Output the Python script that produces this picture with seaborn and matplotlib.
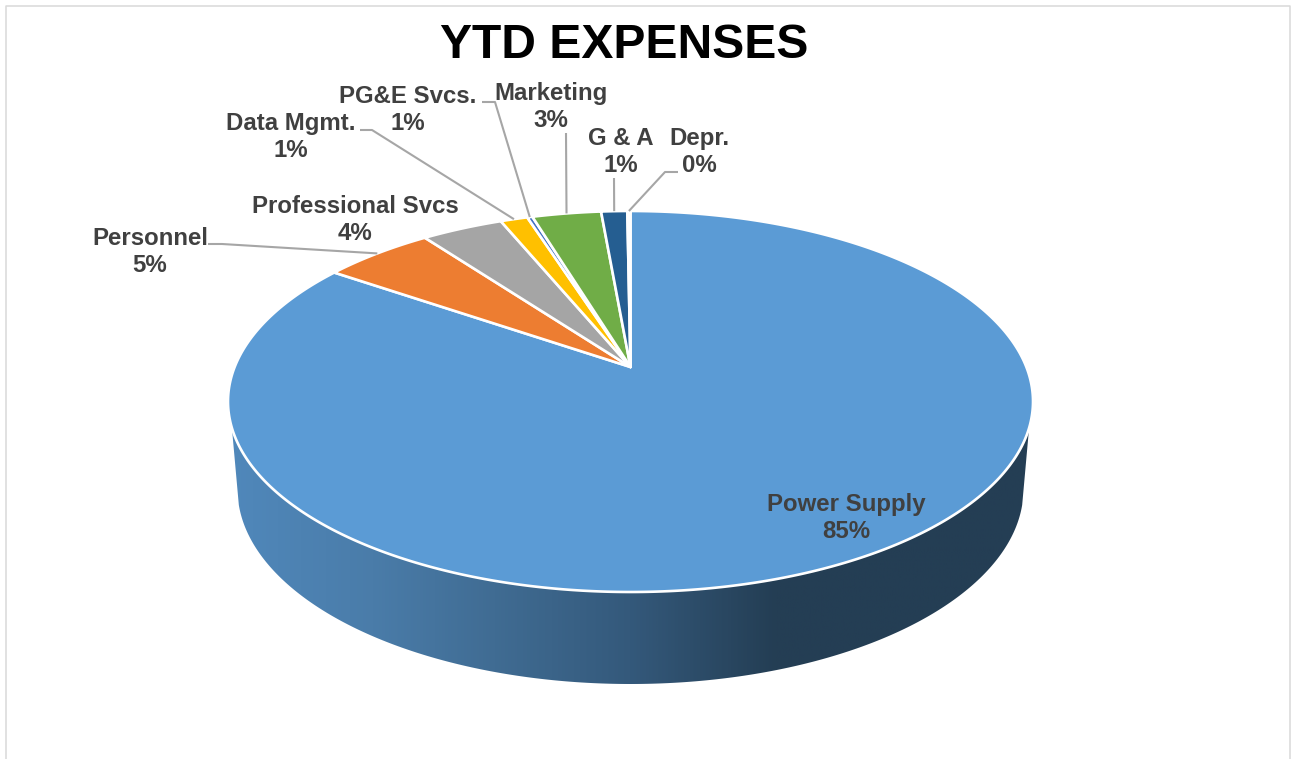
import numpy as np
import matplotlib
matplotlib.use("Agg")
import matplotlib.pyplot as plt
from matplotlib.patches import Polygon
from matplotlib.colors import LinearSegmentedColormap
import seaborn as sns

categories = ["Power Supply", "Personnel", "Professional Svcs", "Data Mgmt.",
              "PG&E Svcs.", "Marketing", "G & A", "Depr."]
shares = [84.6, 5.3, 3.9, 1.3, 0.25, 3.3, 1.25, 0.15]
pct_labels = ["85%", "5%", "4%", "1%", "1%", "3%", "1%", "0%"]
colors = ["#5B9BD5", "#ED7D31", "#A5A5A5", "#FFC000", "#4472C4", "#70AD47", "#255E91", "#FFFFFF"]
title = "YTD EXPENSES"

sns.set_theme(style="white")
plt.rcParams["font.family"] = ["Liberation Sans", "DejaVu Sans"]
palette = sns.color_palette(colors)

W, H = 1291, 759
fig = plt.figure(figsize=(W / 100, H / 100), dpi=100, facecolor="white")
ax = fig.add_axes([0, 0, 1, 1])
ax.set_xlim(0, W)
ax.set_ylim(H, 0)
ax.axis("off")

# Perspective projection of the unit circle onto the tilted pie top
CX, CY, RX, RY = 630.5, 401.5, 402.5, 190.5
APEX_Y = 367.0
k = (CY - APEX_Y) / RY
c = RX * np.sqrt(1 - k ** 2)


def project(theta_deg, r=1.0):
    t = np.radians(theta_deg)
    u, v = r * np.sin(t), r * np.cos(t)
    w = 1 + k * v
    return CX + c * u / w, CY - (RY * v + RY * k) / w


# Side wall of the pie, with a horizontal shade
phi = np.arcsin((428.0 - CY) / RY)
tt = np.linspace(phi, np.pi - phi, 300)
top_x = CX + RX * np.cos(tt)
top_y = CY + RY * np.sin(tt)
BX, BY, BRX, BRY = 630.5, 489.0, 393.0, 195.0
psi = np.arcsin((505.0 - BY) / BRY)
bb = np.linspace(np.pi - psi, psi, 300)
bot_x = BX + BRX * np.cos(bb)
bot_y = BY + BRY * np.sin(bb)
wall_xy = np.column_stack([np.r_[top_x, bot_x], np.r_[top_y, bot_y]])
wall = Polygon(wall_xy, closed=True, facecolor="none", edgecolor="none")
ax.add_patch(wall)
cmap = LinearSegmentedColormap.from_list(
    "wall",
    [(0.0, "#5088BB"), (0.18, "#4A7CA9"), (0.33, "#406C93"), (0.50, "#34597B"),
     (0.68, "#243E54"), (1.0, "#243E54")],
)
img = ax.imshow(np.linspace(0, 1, 512)[None, :], extent=(228, 1033, 700, 400),
                cmap=cmap, aspect="auto", zorder=1)
img.set_clip_path(wall)
ax.set_xlim(0, W)
ax.set_ylim(H, 0)

# Pie top
edges = np.r_[0, np.cumsum(shares)] / np.sum(shares) * 360
ax0, ay0 = project(0, 0)
for i, name in enumerate(categories):
    th = np.linspace(edges[i], edges[i + 1], max(int(edges[i + 1] - edges[i]) * 4, 6))
    x, y = project(th)
    ax.fill(np.r_[ax0, x], np.r_[ay0, y], facecolor=palette[i],
            edgecolor="white", linewidth=1.9, joinstyle="round", zorder=2)

# Leader lines: elbow start in the label, tip on the rim of the slice
leaders = {
    "Personnel": [(208, 244), (222, 244)],
    "Data Mgmt.": [(360, 130), (372, 130)],
    "PG&E Svcs.": [(482, 102), (495, 102)],
    "Marketing": [(566, 133)],
    "G & A": [(614, 178)],
    "Depr.": [(678, 172), (665, 172)],
}
for i, name in enumerate(categories):
    if name in leaders:
        mid = (edges[i] + edges[i + 1]) / 2
        pts = leaders[name] + [project(mid)]
        ax.plot(*zip(*pts), color="#A6A6A6", lw=1.5, zorder=3, solid_capstyle="butt")

# Labels
label_pos = {
    "Power Supply": (846, 518), "Personnel": (150, 252), "Professional Svcs": (355, 220),
    "Data Mgmt.": (291, 137), "PG&E Svcs.": (408, 110), "Marketing": (551, 107),
    "G & A": (621, 152), "Depr.": (699, 152),
}
for name, pct in zip(categories, pct_labels):
    x, y = label_pos[name]
    ax.text(x, y, f"{name}\n{pct}", ha="center", va="center", fontsize=17.3,
            fontweight="bold", color="#404040", linespacing=1.27, zorder=4)

ax.text(624.5, 46, title, ha="center", va="center", fontsize=34.6, fontweight="bold",
        color="black", zorder=4)

# Chart frame
ax.plot([6, 6, 1290, 1290], [H, 5.5, 5.5, H], color="#D9D9D9", lw=1.1, zorder=0)

fig.savefig("out.png", dpi=100, facecolor="white")
